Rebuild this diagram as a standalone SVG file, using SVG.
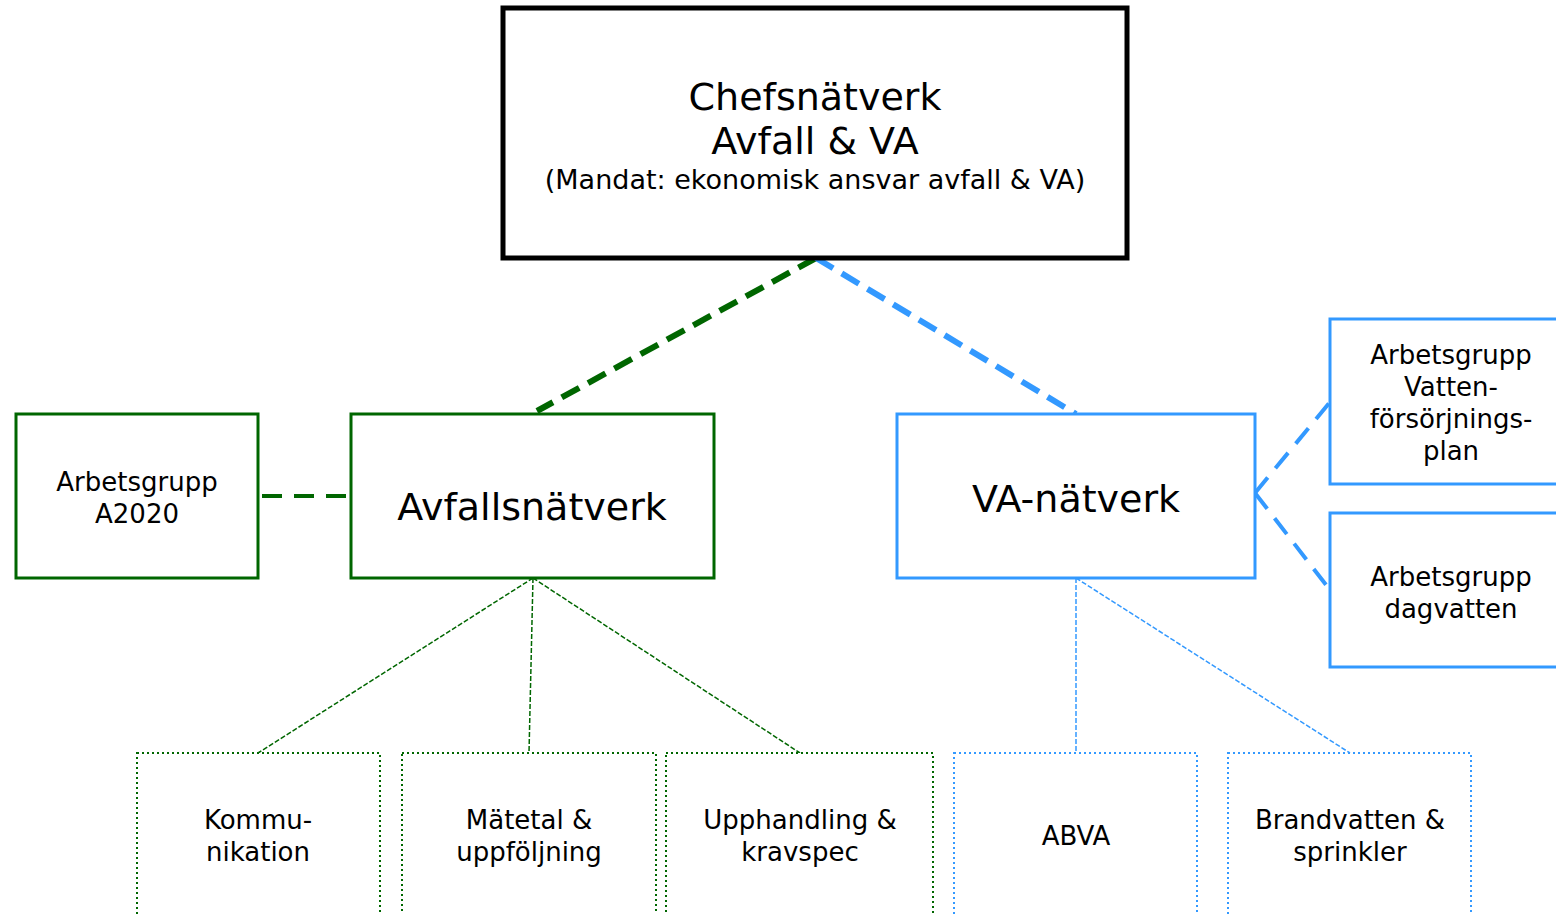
<svg xmlns="http://www.w3.org/2000/svg" width="1556" height="914" viewBox="0 0 1556 914">
<style>
text{font-family:"DejaVu Sans","Verdana",sans-serif;text-anchor:middle;fill:#000}
.big{font-size:38px}
.md{font-size:26px}
.g{fill:#fff;stroke:#006600;stroke-width:3}
.b{fill:#fff;stroke:#3399ff;stroke-width:3}
.gd{fill:#fff;stroke:#006600;stroke-width:2;stroke-dasharray:2,3}
.bd{fill:#fff;stroke:#3399ff;stroke-width:2;stroke-dasharray:2,3}
</style>
<rect width="1556" height="914" fill="#fff"/>
<g id="connectors" fill="none">
<line x1="816" y1="258" x2="537" y2="411" stroke="#006600" stroke-width="6" stroke-dasharray="20,10"/>
<line x1="816" y1="258" x2="1076" y2="414" stroke="#3399ff" stroke-width="6" stroke-dasharray="20,10"/>
<line x1="262" y1="496" x2="351" y2="496" stroke="#006600" stroke-width="4" stroke-dasharray="20,12"/>
<line x1="1255" y1="493" x2="1330" y2="402" stroke="#3399ff" stroke-width="4" stroke-dasharray="20,12"/>
<line x1="1255" y1="493" x2="1330" y2="590" stroke="#3399ff" stroke-width="4" stroke-dasharray="20,12"/>
<g stroke="#006600" stroke-width="1.5" stroke-dasharray="5,2">
<line x1="533" y1="578" x2="258" y2="753"/>
<line x1="533" y1="578" x2="529" y2="753"/>
<line x1="533" y1="578" x2="800" y2="753"/>
</g>
<g stroke="#3399ff" stroke-width="1.5" stroke-dasharray="5,2">
<line x1="1076" y1="578" x2="1076" y2="753"/>
<line x1="1076" y1="578" x2="1350" y2="753"/>
</g>
</g>
<g id="chef">
<rect x="503" y="8" width="624" height="250" fill="#fff" stroke="#000" stroke-width="5"/>
<text x="815" y="110" class="big">Chefsnätverk</text>
<text x="815" y="154" class="big">Avfall &amp; VA</text>
<text x="815" y="189" style="font-size:27px">(Mandat: ekonomisk ansvar avfall &amp; VA)</text>
</g>
<g id="a2020">
<rect x="16" y="414" width="242" height="164" class="g"/>
<text x="137" y="491" class="md">Arbetsgrupp</text>
<text x="137" y="523" class="md">A2020</text>
</g>
<g id="avfall">
<rect x="351" y="414" width="363" height="164" class="g"/>
<text x="532" y="520" class="big">Avfallsnätverk</text>
</g>
<g id="va">
<rect x="897" y="414" width="358" height="164" class="b"/>
<text x="1076" y="512" class="big">VA-nätverk</text>
</g>
<g id="vatten">
<rect x="1330" y="319" width="240" height="165" class="b"/>
<text x="1451" y="364" class="md">Arbetsgrupp</text>
<text x="1451" y="396" class="md">Vatten-</text>
<text x="1451" y="428" class="md">försörjnings-</text>
<text x="1451" y="460" class="md">plan</text>
</g>
<g id="dagvatten">
<rect x="1330" y="513" width="240" height="154" class="b"/>
<text x="1451" y="586" class="md">Arbetsgrupp</text>
<text x="1451" y="618" class="md">dagvatten</text>
</g>
<g id="kommunikation">
<rect x="137" y="753" width="243" height="180" class="gd"/>
<text x="258" y="829" class="md">Kommu-</text>
<text x="258" y="861" class="md">nikation</text>
</g>
<g id="matetal">
<rect x="402" y="753" width="254" height="180" class="gd"/>
<text x="529" y="829" class="md">Mätetal &amp;</text>
<text x="529" y="861" class="md">uppföljning</text>
</g>
<g id="upphandling">
<rect x="666" y="753" width="267" height="180" class="gd"/>
<text x="800" y="829" class="md">Upphandling &amp;</text>
<text x="800" y="861" class="md">kravspec</text>
</g>
<g id="abva">
<rect x="954" y="753" width="243" height="180" class="bd"/>
<text x="1076" y="845" class="md">ABVA</text>
</g>
<g id="brandvatten">
<rect x="1228" y="753" width="243" height="180" class="bd"/>
<text x="1350" y="829" class="md">Brandvatten &amp;</text>
<text x="1350" y="861" class="md">sprinkler</text>
</g>
</svg>
